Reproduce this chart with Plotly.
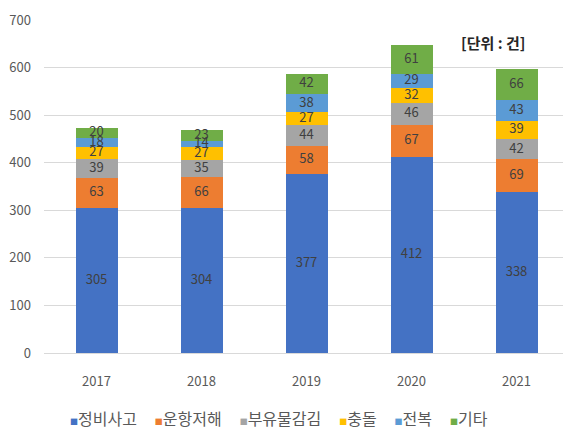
import plotly.graph_objects as go

years = ["2017", "2018", "2019", "2020", "2021"]
series_names = ["정비사고", "운항저해", "부유물감김", "충돌", "전복", "기타"]
maintenance = [305, 304, 377, 412, 338]
obstruction = [63, 66, 58, 67, 69]
entanglement = [39, 35, 44, 46, 42]
collision = [27, 27, 27, 32, 39]
capsize = [18, 14, 38, 29, 43]
other = [20, 23, 42, 61, 66]

colors = ["#4472C4", "#ED7D31", "#A5A5A5", "#FFC000", "#5B9BD5", "#70AD47"]
font = "Noto Sans CJK KR"
all_series = [maintenance, obstruction, entanglement, collision, capsize, other]

fig = go.Figure()
base = [0] * len(years)
for name, vals, col in zip(series_names, all_series, colors):
    fig.add_trace(go.Bar(x=years, y=vals, name=name,
                         marker=dict(color=col, line=dict(width=0))))
    # value labels in the middle of each segment
    mids = [b + v / 2 for b, v in zip(base, vals)]
    fig.add_trace(go.Scatter(x=years, y=mids, mode="text", text=vals,
                             textfont=dict(color="#404040", size=13, family=font),
                             hoverinfo="skip", showlegend=False))
    base = [b + v for b, v in zip(base, vals)]

fig.add_annotation(text="<b>[단위 : 건]</b>", xref="paper", yref="paper",
                   x=0.855, y=0.931, xanchor="center", yanchor="middle",
                   showarrow=False,
                   font=dict(size=15, color="#262626", family=font))

# legend drawn as one line of text like the original (nbsp so svg keeps the gaps)
gap = "\u00a0" * 5
legend_txt = gap.join(
    f"<span style='color:{c};font-size:8px'>■</span>{n}"
    for n, c in zip(series_names, colors))
fig.add_annotation(text=legend_txt, xref="paper", yref="paper",
                   x=0.448, y=-0.195, xanchor="center", yanchor="middle",
                   showarrow=False, font=dict(size=16, color="#595959", family=font))

# page has an 8px body margin, so margins are offset to compensate
fig.update_layout(
    barmode="stack", bargap=0.6,
    width=571, height=441,
    margin=dict(l=36, r=10, t=12, b=96),
    plot_bgcolor="white", paper_bgcolor="white",
    font=dict(family=font, size=13, color="#595959"),
    yaxis=dict(range=[0, 700], dtick=100, gridcolor="#D9D9D9", zeroline=False,
               showline=False, ticks="", automargin=False, ticklabelstandoff=12,
               tickfont=dict(size=13, color="#595959")),
    xaxis=dict(showline=True, linecolor="#D9D9D9", ticks="", automargin=False,
               ticklabelstandoff=16,
               tickfont=dict(size=13, color="#595959")),
    showlegend=False,
)

fig.write_html("out.html")
